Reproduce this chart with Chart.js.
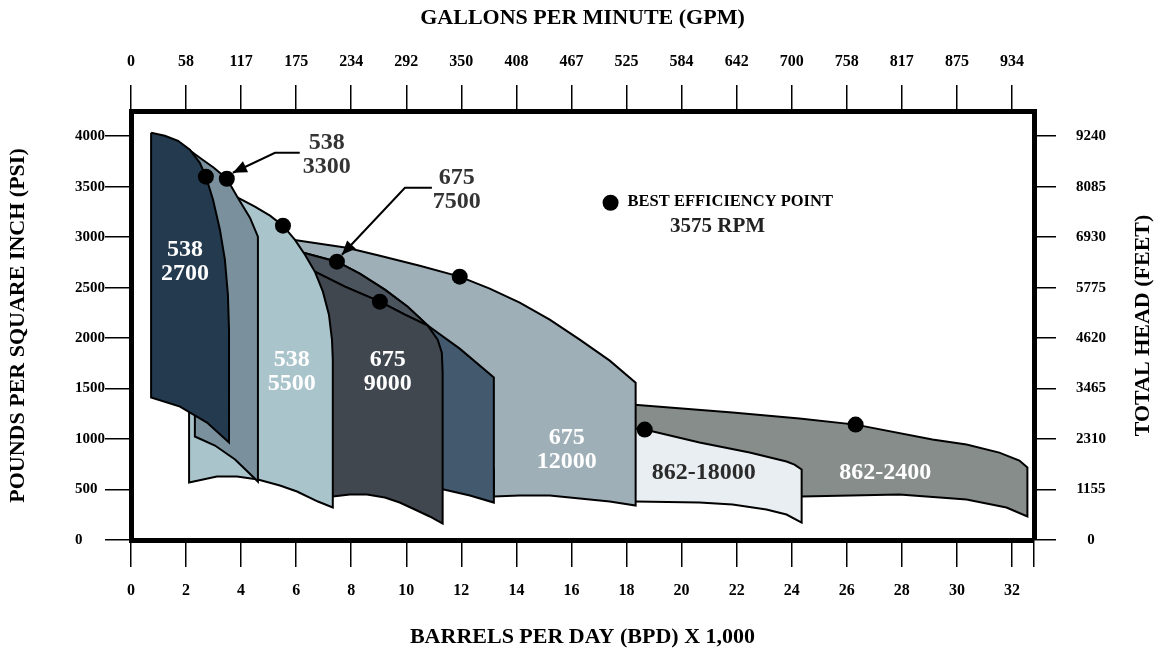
<!DOCTYPE html>
<html>
<head>
<meta charset="utf-8">
<script src="https://cdn.jsdelivr.net/npm/chart.js@4.4.1/dist/chart.umd.min.js"></script>
<style>
  html, body { margin: 0; padding: 0; background: #fff; }
</style>
</head>
<body>
<canvas id="myChart" width="1159" height="656"></canvas>
<script>
// x = barrels per day (x 1000), y = pounds per square inch
var bpdTicks = [0, 2, 4, 6, 8, 10, 12, 14, 16, 18, 20, 22, 24, 26, 28, 30, 32];
var gpmLabels = ['0', '58', '117', '175', '234', '292', '350', '408', '467', '525', '584', '642', '700', '758', '817', '875', '934'];
var psiTicks = [0, 500, 1000, 1500, 2000, 2500, 3000, 3500, 4000];
var headLabels = ['0', '1155', '2310', '3465', '4620', '5775', '6930', '8085', '9240'];

// pump operating ranges, outline points [bpd, psi]
var p538_2700 = [[0.73,4034],[1.23,4005],[1.71,3955],[2.14,3866],[2.50,3737],[2.72,3599],[2.98,3371],[3.23,3074],[3.41,2777],[3.52,2430],[3.56,2084],[3.56,965],[2.76,1163],[1.78,1322],[0.73,1411]];
var p538_3300 = [[1.23,3995],[1.96,3896],[2.50,3787],[3.01,3688],[3.48,3579],[3.88,3391],[4.32,3193],[4.61,3005],[4.61,579],[3.78,797],[3.05,936],[2.32,1025],[2.32,2381]];
var p538_5500 = [[3.59,3450],[3.88,3391],[4.50,3302],[5.05,3213],[5.52,3114],[5.95,2975],[6.32,2826],[6.68,2658],[6.97,2460],[7.19,2232],[7.30,1985],[7.33,1787],[7.33,322],[6.79,381],[6.03,480],[5.41,540],[4.61,599],[3.85,629],[3.12,629],[2.11,569],[2.11,2381]];
var p675_9000 = [[6.57,2658],[6.68,2658],[7.77,2510],[9.04,2361],[9.95,2232],[10.78,2124],[11.14,1985],[11.29,1856],[11.32,1658],[11.32,163],[10.85,233],[10.31,302],[9.76,371],[9.22,421],[8.57,450],[7.95,450],[7.33,431],[6.57,431]];
var p675_band = [[6.13,2856],[7.48,2757],[8.31,2638],[9.22,2480],[10.05,2311],[10.78,2124],[9.95,2232],[9.04,2361],[7.77,2510],[6.68,2658],[6.13,2700]];
var p675_7500 = [[6.13,2856],[7.48,2757],[8.31,2638],[9.22,2480],[10.05,2311],[10.78,2124],[11.94,1896],[13.18,1609],[13.18,371],[12.31,441],[11.36,500],[9.76,540],[7.59,579],[6.32,698],[6.13,698]];
var p675_12000 = [[5.88,2975],[6.86,2935],[7.84,2896],[9.04,2816],[10.49,2717],[11.94,2609],[13.03,2490],[14.12,2351],[15.21,2183],[16.30,1985],[17.39,1777],[18.33,1559],[18.33,342],[17.39,381],[16.30,411],[15.21,441],[14.12,441],[13.18,431],[13.18,698],[7.59,698],[6.13,1400]];
var p862_18000 = [[17.93,1114],[18.66,1094],[20.65,965],[22.47,866],[23.81,777],[24.10,747],[24.36,698],[24.36,173],[23.81,252],[23.08,302],[21.85,351],[20.65,371],[18.33,381],[17.93,381]];
var p862_2400 = [[17.93,1341],[18.29,1341],[21.85,1262],[24.28,1203],[26.32,1143],[29.11,995],[30.35,946],[31.54,866],[32.27,787],[32.56,718],[32.56,233],[31.80,322],[30.35,401],[27.91,450],[24.36,431],[20.65,431],[17.93,431]];

// best efficiency points
var bepPoints = [[2.72,3599],[3.48,3579],[5.52,3114],[7.48,2757],[9.04,2361],[11.94,2609],[18.66,1094],[26.32,1143]];

var FONT = '"Liberation Serif", "Times New Roman", serif';
Chart.defaults.font.family = FONT;
Chart.defaults.font.weight = 'bold';
Chart.defaults.color = '#000';

function ring(arr) { // closed outline
    var pts = arr.map(function(p) { return {x: p[0], y: p[1]}; });
    pts.push({x: arr[0][0], y: arr[0][1]});
    return pts;
}

function area(data, color) {
    return {
        data: ring(data),
        backgroundColor: color,
        borderColor: '#000',
        borderWidth: 2,
        pointRadius: 0,
        tension: 0,
        fill: 'shape'
    };
}

function setTicks(values) {
    return function(s) { s.ticks = values.map(function(v) { return {value: v}; }); };
}

// text and arrows drawn over the ranges
var labelsIn = [
    {at: [1.96, 2757], lines: ['538', '2700'], color: '#fff'},
    {at: [5.84, 1668], lines: ['538', '5500'], color: '#fff'},
    {at: [9.33, 1668], lines: ['675', '9000'], color: '#fff'},
    {at: [15.83, 896], lines: ['675', '12000'], color: '#fff'},
    {at: [20.80, 668], lines: ['862-18000'], color: '#2b2b2b'},
    {at: [27.40, 668], lines: ['862-2400'], color: '#fff'},
    {at: [7.11, 3816], lines: ['538', '3300'], color: '#333'},
    {at: [11.83, 3470], lines: ['675', '7500'], color: '#333'}
];
var arrows = [
    [[6.13, 3836], [5.23, 3836], [3.70, 3638]],
    [[10.93, 3490], [9.95, 3490], [7.66, 2826]]
];

var notesPlugin = {
    id: 'notes',
    afterDatasetsDraw: function(chart) {
        var ctx = chart.ctx, xs = chart.scales.x, ys = chart.scales.y;
        function px(p) { return [xs.getPixelForValue(p[0]), ys.getPixelForValue(p[1])]; }
        ctx.save();
        ctx.strokeStyle = '#000';
        ctx.fillStyle = '#000';
        ctx.lineWidth = 2;
        arrows.forEach(function(a) {
            var pts = a.map(px);
            ctx.beginPath();
            ctx.moveTo(pts[0][0], pts[0][1]);
            for (var i = 1; i < pts.length; i++) ctx.lineTo(pts[i][0], pts[i][1]);
            ctx.stroke();
            var t = pts[pts.length - 1], f = pts[pts.length - 2];
            var ang = Math.atan2(t[1] - f[1], t[0] - f[0]);
            ctx.beginPath();
            ctx.moveTo(t[0], t[1]);
            ctx.lineTo(t[0] - 14 * Math.cos(ang) + 6 * Math.sin(ang), t[1] - 14 * Math.sin(ang) - 6 * Math.cos(ang));
            ctx.lineTo(t[0] - 14 * Math.cos(ang) - 6 * Math.sin(ang), t[1] - 14 * Math.sin(ang) + 6 * Math.cos(ang));
            ctx.closePath();
            ctx.fill();
        });

        ctx.textAlign = 'center';
        ctx.textBaseline = 'middle';
        ctx.font = 'bold 24px ' + FONT;
        labelsIn.forEach(function(l) {
            var c = px(l.at);
            ctx.fillStyle = l.color;
            l.lines.forEach(function(t, i) {
                ctx.fillText(t, c[0], c[1] + (i - (l.lines.length - 1) / 2) * 23.5);
            });
        });

        // legend for the dots
        var d = px([17.42, 3341]);
        ctx.fillStyle = '#000';
        ctx.beginPath();
        ctx.arc(d[0], d[1], 8, 0, Math.PI * 2);
        ctx.fill();
        ctx.textAlign = 'left';
        ctx.font = 'bold 16.5px ' + FONT;
        ctx.fillText('BEST EFFICIENCY POINT', d[0] + 17, d[1] - 1);
        ctx.textAlign = 'center';
        ctx.font = 'bold 21px ' + FONT;
        ctx.fillStyle = '#222';
        ctx.fillText('3575 RPM', d[0] + 107, d[1] + 24);

        // right axis title, read bottom to top like the left one
        var r = chart.scales.y2;
        ctx.translate(r.right - 16, (r.top + r.bottom) / 2);
        ctx.rotate(-Math.PI / 2);
        ctx.fillStyle = '#000';
        ctx.font = 'bold 22px ' + FONT;
        ctx.fillText('TOTAL HEAD (FEET)', 0, 0);
        ctx.restore();
    }
};

var tickFont = {size: 16, weight: 'bold'};
var titleFont = {size: 22, weight: 'bold'};
var gridOpt = {drawOnChartArea: false, drawTicks: true, color: '#000', lineWidth: 1.5};
var frame = {display: true, color: '#000', width: 5};

var ctx = document.getElementById('myChart');
var myChart = new Chart(ctx, {
    type: 'line',
    data: {
        datasets: [
            {
                data: bepPoints.map(function(p) { return {x: p[0], y: p[1]}; }),
                showLine: false,
                pointRadius: 8,
                pointBackgroundColor: '#000',
                pointBorderWidth: 0,
                fill: false
            },
            area(p538_2700, '#243a4f'),
            area(p538_3300, '#7a919d'),
            area(p538_5500, '#aac4cc'),
            area(p675_9000, '#40474f'),
            area(p675_band, '#4b545d'),
            area(p675_7500, '#42596e'),
            area(p675_12000, '#9fafb8'),
            area(p862_18000, '#e8eef1'),
            area(p862_2400, '#868d8b')
        ]
    },
    options: {
        responsive: false,
        animation: false,
        devicePixelRatio: 1,
        layout: {padding: {left: 75}},
        plugins: {
            legend: {display: false},
            tooltip: {enabled: false}
        },
        scales: {
            x: {
                type: 'linear', position: 'bottom', min: 0, max: 32.8,
                afterBuildTicks: setTicks(bpdTicks.concat([32.8])),
                ticks: {font: tickFont, padding: 14, maxRotation: 0, autoSkip: false,
                    callback: function(v) { return v % 2 === 0 ? String(v) : ''; }},
                grid: Object.assign({tickLength: 27}, gridOpt),
                border: frame,
                title: {display: true, text: 'BARRELS PER DAY (BPD) X 1,000', font: titleFont, padding: {top: 0, bottom: 5}},
                afterFit: function(s) { s.height = 116; }
            },
            x2: {
                type: 'linear', position: 'top', min: 0, max: 32.8,
                afterBuildTicks: setTicks(bpdTicks),
                ticks: {font: tickFont, padding: 14, maxRotation: 0, autoSkip: false,
                    callback: function(v) { return gpmLabels[Math.round(v / 2)]; }},
                grid: Object.assign({tickLength: 26}, gridOpt),
                border: frame,
                title: {display: true, text: 'GALLONS PER MINUTE (GPM)', font: titleFont, padding: {top: 5, bottom: 0}},
                afterFit: function(s) { s.height = 111; }
            },
            y: {
                type: 'linear', position: 'left', min: 0, max: 4250,
                afterBuildTicks: setTicks(psiTicks),
                ticks: {font: {size: 15, weight: 'bold'}, padding: 4, crossAlign: 'far', autoSkip: false,
                    callback: function(v) { return String(v); }},
                grid: Object.assign({tickLength: 26}, gridOpt),
                border: frame,
                title: {display: true, text: 'POUNDS PER SQUARE INCH (PSI)', font: titleFont, padding: {top: -70, bottom: 0}},
                afterFit: function(s) { s.width = 56; }
            },
            y2: {
                type: 'linear', position: 'right', min: 0, max: 4250,
                afterBuildTicks: setTicks(psiTicks),
                ticks: {font: {size: 15, weight: 'bold'}, padding: 20, crossAlign: 'center', autoSkip: false,
                    callback: function(v) { return headLabels[Math.round(v / 500)]; }},
                grid: Object.assign({tickLength: 22}, gridOpt),
                border: frame,
                title: {display: false},
                afterFit: function(s) { s.width = 125; }
            }
        }
    },
    plugins: [notesPlugin]
});
</script>
</body>
</html>
